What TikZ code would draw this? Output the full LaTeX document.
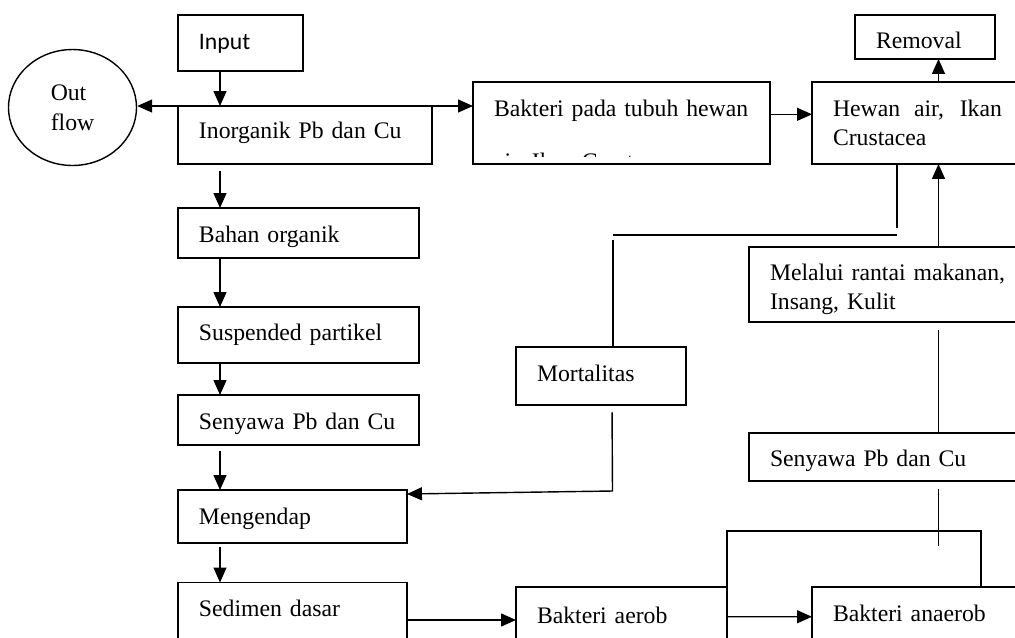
\documentclass[tikz,border=0pt]{standalone}
\usepackage{fontspec}
\setmainfont{Liberation Serif}
\newfontfamily\inputfont{Carlito}
\usepackage{tikz}
\usetikzlibrary{arrows.meta,calc,positioning,shapes.geometric}

\begin{document}
\begin{tikzpicture}[
  x=0.02cm, y=-0.02cm,
  line width=0.8pt,
  >={Triangle[length=0.3cm,width=0.26cm]},
  box/.style={rectangle,draw,anchor=north west,outer sep=0pt,inner xsep=0.42cm,inner ysep=0pt,
    align=left,font=\fontsize{13.5}{16.8}\selectfont},
  edge/.style={->},
  link/.style={-}
]
  \path[use as bounding box,clip] (0,0) rectangle (1015,637);

  % left column
  \node[ellipse,draw,minimum width=2.56cm,minimum height=2.32cm,inner sep=0pt,align=left,
    font=\fontsize{13.5}{16.8}\selectfont] (outflow) at (72.5,107.5) {Out\\flow};
  \node[box,font=\inputfont\fontsize{13.5}{16.8}\selectfont,text width=1.66cm,text height=0.69cm,text depth=0.43cm] (input) at (178,15) {Input};
  \node[box,text width=4.24cm,text height=0.65cm,text depth=0.51cm] (inorg) at (178,106) {Inorganik Pb dan Cu};
  \node[box,text width=3.98cm,text height=0.68cm,text depth=0.32cm] (bahan) at (178,208) {Bahan organik};
  \node[box,text width=3.98cm,text height=0.66cm,text depth=0.46cm] (susp) at (178,307) {Suspended partikel};
  \node[box,text width=3.98cm,text height=0.69cm,text depth=0.31cm] (senyawa) at (178,395) {Senyawa Pb dan Cu};
  \node[box,text width=3.74cm,text height=0.68cm,text depth=0.38cm] (mengendap) at (178,490) {Mengendap};
  \node[box,text width=3.74cm,text height=0.67cm,text depth=0.83cm] (sedimen) at (178,582.5) {Sedimen dasar};

  % top row
  \begin{scope}
    \clip (473,82) rectangle (770,156);
    \node[box,draw=none,text width=5.1cm,text height=0.69cm,text depth=0.95cm] (bakteri) at (473,82)
      {Bakteri pada tubuh hewan\\[0.46cm]air, Ikan Crustacea};
  \end{scope}
  \draw (bakteri.north west) rectangle (bakteri.south east);
  \node[box,align=justify,text width=3.38cm,text height=0.68cm,text depth=0.96cm] (hewan) at (812,82)
    {\tolerance=9999 Hewan air, Ikan Crustacea};
  \node[box,text width=1.96cm,text height=0.66cm,text depth=0.22cm] (removal) at (855,15) {Removal};

  % right side
  \node[box,text width=5.08cm,text height=0.66cm,text depth=0.84cm] (melalui) at (749,247)
    {Melalui rantai makanan,\\Insang, Kulit};
  \node[box,text width=2.56cm,text height=0.68cm,text depth=0.48cm] (mortal) at (516,347) {Mortalitas};
  \node[box,text width=5.08cm,text height=0.66cm,text depth=0.30cm] (senyawa2) at (749,433) {Senyawa Pb dan Cu};
  \node[box,text width=3.38cm,text height=0.73cm,text depth=0.46cm] (aerob) at (516,587) {Bakteri aerob};
  \node[box,text width=3.62cm,text height=0.68cm,text depth=0.51cm] (anaerob) at (812,587) {Bakteri anaerob};

  \coordinate (colx) at (220,0);
  \coordinate (colr) at (938.5,0);
  \coordinate (colm) at (612,0);
  \coordinate (kink) at (897,235);
  \coordinate (kink2) at (613,235);
  \coordinate (elbow) at (612.5,491);
  \coordinate (bridge) at (981,531);
  \coordinate (tail) at (938.5,546);

  % connectors
  \draw[edge] (input.south -| colx) -- (inorg.north -| colx);
  \draw[<->] (outflow.east |- inorg.north) -- (bakteri.west |- inorg.north);
  \draw[edge,shorten <=0.15cm] (inorg.south -| colx) -- (bahan.north -| colx);
  \draw[edge] (bahan.south -| colx) -- (susp.north -| colx);
  \draw[edge] (susp.south -| colx) -- (senyawa.north -| colx);
  \draw[edge,shorten <=0.13cm] (senyawa.south -| colx) -- (mengendap.north -| colx);
  \draw[edge,shorten <=0.07cm] (mengendap.south -| colx) -- (sedimen.north -| colx);
  \draw[edge] (sedimen.east) -- (aerob.west |- sedimen.east);
  \draw[edge] (aerob.east) -- (anaerob.west);
  \draw[link] (aerob.north east) |- (bridge) -- (bridge |- anaerob.north);
  \draw[link,shorten <=0.16cm] (senyawa2.south -| colr) -- (tail);
  \draw[link,shorten >=0.16cm] (senyawa2.north -| colr) -- (melalui.south -| colr);
  \draw[edge] (melalui.north -| colr) -- (hewan.south -| colr);
  \draw[edge] (hewan.north -| colr) -- (removal.south -| colr);
  \draw[edge] ([yshift=0.174cm]bakteri.east) -- ([yshift=0.174cm]hewan.west);
  \draw[link] (hewan.south -| kink) -- ([yshift=0.14cm]kink);
  \draw[link] (kink) -- (kink2);
  \draw[link] ([yshift=-0.1cm]kink2) -- (mortal.north -| kink2);
  \draw[edge,shorten <=0.15cm] (mortal.south -| colm) -- (elbow) -- ([yshift=-0.08cm]mengendap.north east);
\end{tikzpicture}
\end{document}
